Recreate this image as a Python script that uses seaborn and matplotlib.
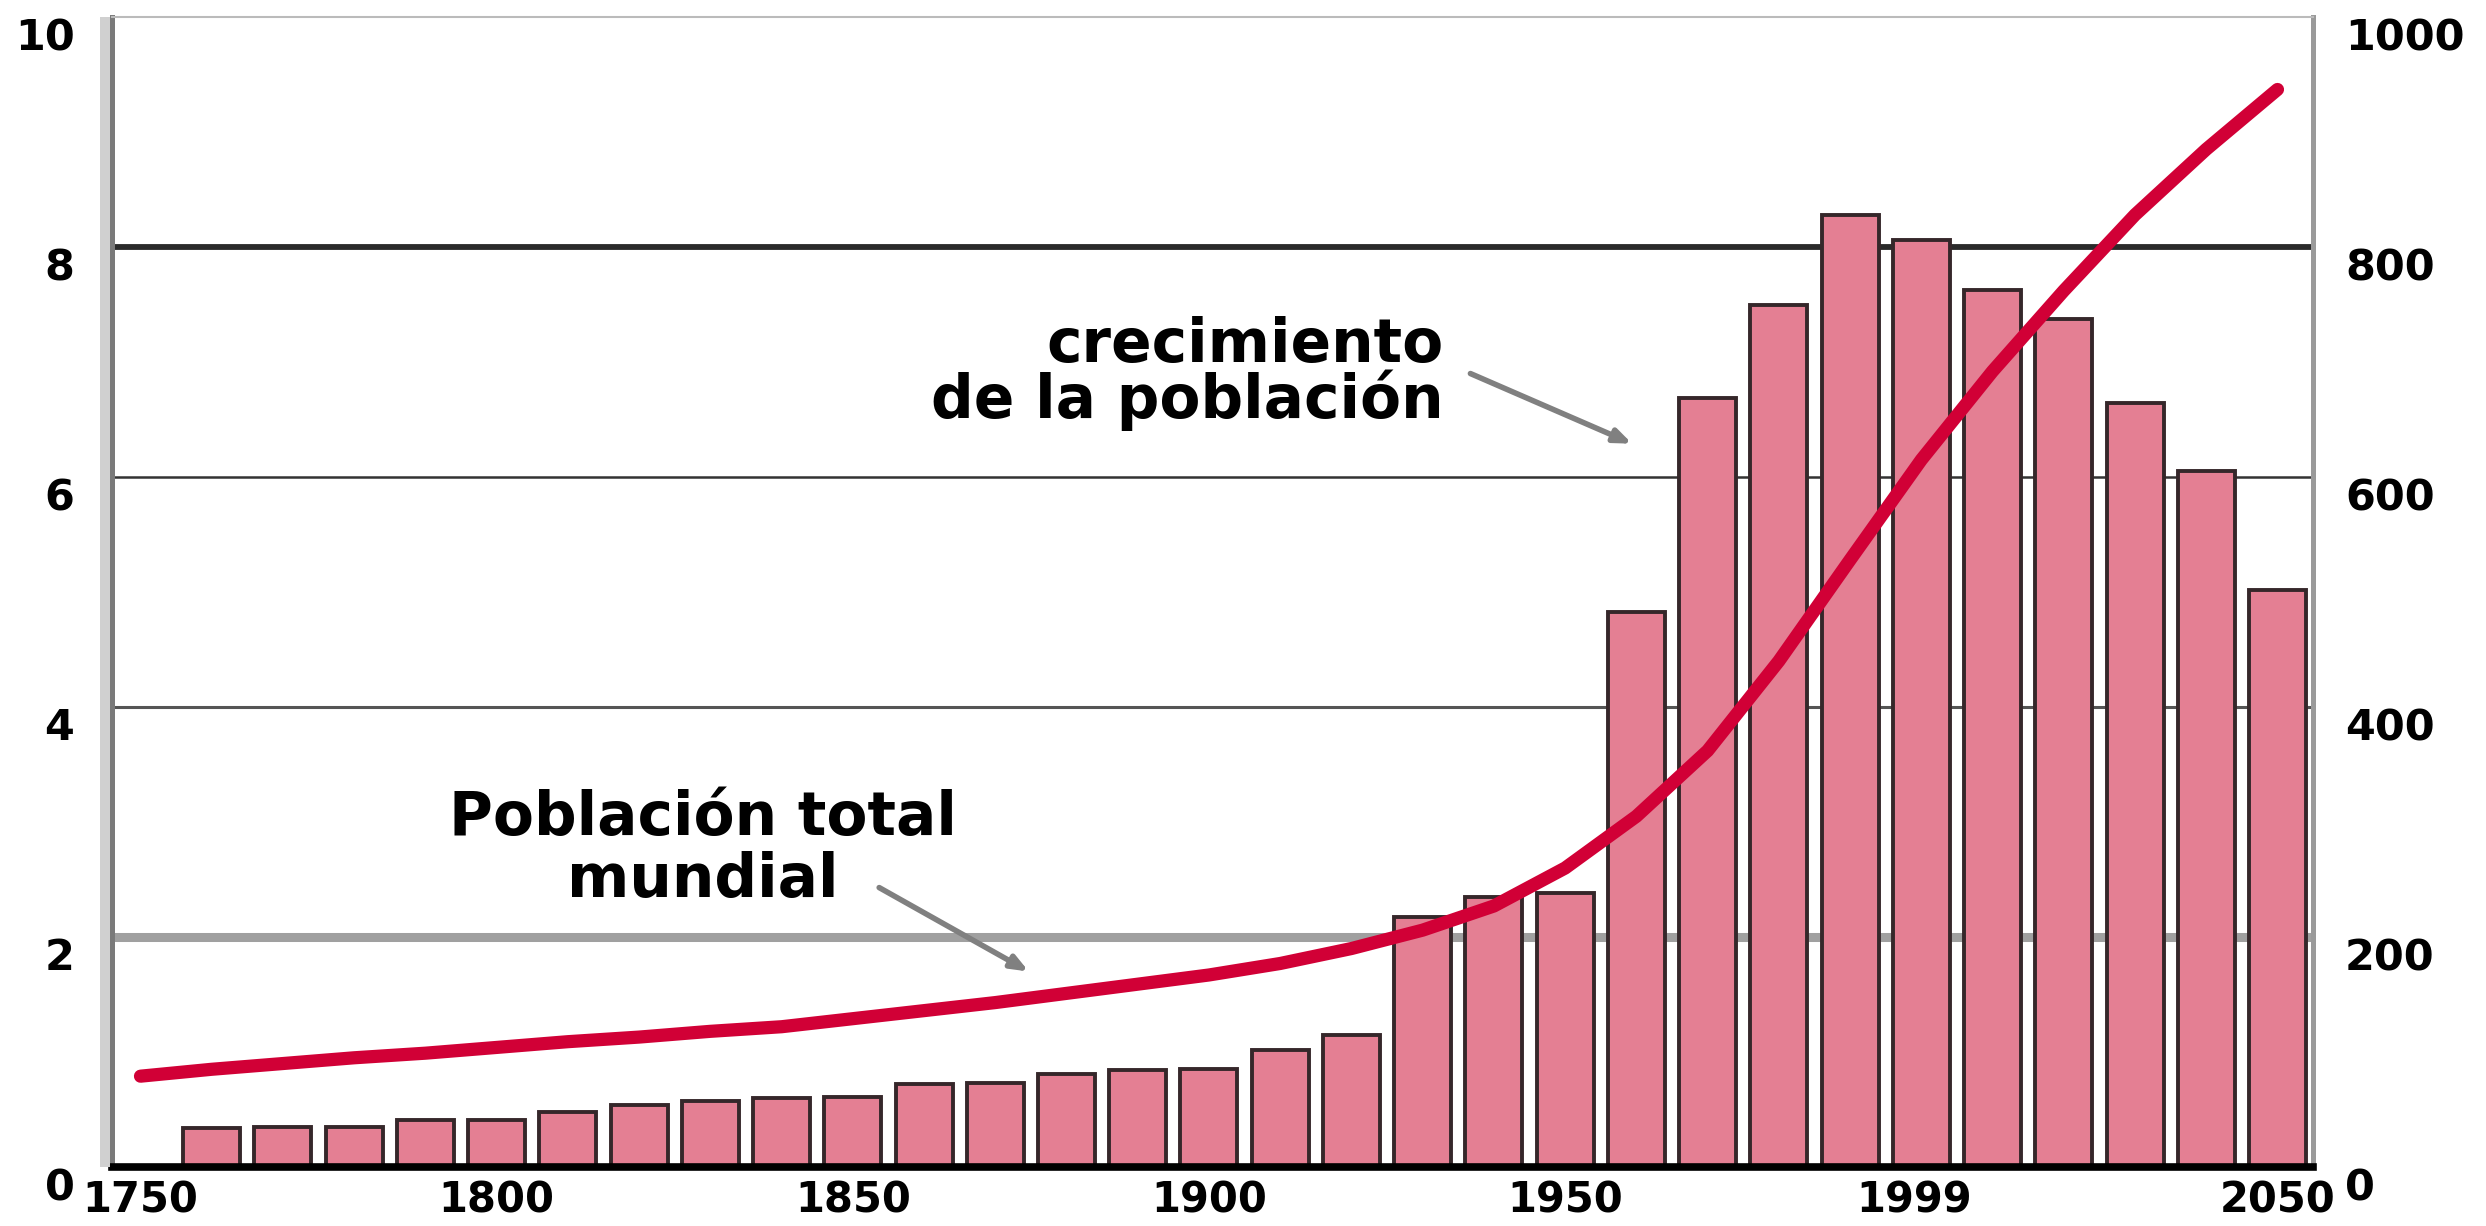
import pandas as pd
import matplotlib
matplotlib.use('Agg')
import matplotlib.pyplot as plt
from matplotlib.patches import Rectangle
import seaborn as sns

sns.set_style("white")
plt.rcParams['font.family'] = ['DejaVu Sans']
plt.rcParams['font.weight'] = 'bold'
plt.rcParams['text.color'] = 'black'
plt.rcParams['xtick.color'] = 'black'
plt.rcParams['ytick.color'] = 'black'

# Crecimiento de la población por década (millones, eje derecho)
decadas = [1760, 1770, 1780, 1790, 1800, 1810, 1820, 1830, 1840, 1850,
           1860, 1870, 1880, 1890, 1900, 1910, 1920, 1930, 1940, 1950,
           1960, 1970, 1980, 1990, 2000, 2010, 2020, 2030, 2040, 2050]
crecimiento = [34, 35, 35, 41, 41, 48, 54, 57, 60, 61,
               72, 73, 81, 84, 85, 102, 115, 217, 235, 238,
               483, 669, 750, 828, 806, 763, 737, 664, 605, 502]

# Población total mundial (miles de millones, eje izquierdo)
anios_pob = [1750, 1760, 1770, 1780, 1790, 1800, 1810, 1820, 1830, 1840,
             1850, 1860, 1870, 1880, 1890, 1900, 1910, 1920, 1930, 1940,
             1950, 1960, 1970, 1980, 1990, 2000, 2010, 2020, 2030, 2040, 2050]
poblacion = [0.79, 0.85, 0.90, 0.95, 0.99, 1.04, 1.09, 1.13, 1.18, 1.22,
             1.29, 1.36, 1.43, 1.51, 1.59, 1.67, 1.77, 1.90, 2.06, 2.27,
             2.60, 3.05, 3.62, 4.40, 5.28, 6.15, 6.92, 7.62, 8.28, 8.85, 9.37]

# Ejes
anios_eje = [1750, 1800, 1850, 1900, 1950, 1999, 2050]
etiquetas_x = ['1750', '1800', '1850', '1900', '1950', '1999', '2050']
ticks_izq = [0, 2, 4, 6, 8, 10]
ticks_der = [0, 200, 400, 600, 800, 1000]

color_barra = '#E47F93'
color_borde = '#35272a'
color_linea = '#D10036'

fig = plt.figure(figsize=(24.86, 12.26), dpi=100)
ax = fig.add_axes([0.04505, 0.0481, 0.8854, 0.938])

df = pd.DataFrame({'decada': decadas, 'crecimiento': crecimiento})
sns.barplot(data=df, x='decada', y='crecimiento', native_scale=True, width=0.8,
            color=color_barra, saturation=1, edgecolor=color_borde,
            linewidth=2.8, ax=ax)

ax2 = ax.twinx()
ax.yaxis.tick_right()
ax2.yaxis.tick_left()

dfp = pd.DataFrame({'anio': anios_pob, 'poblacion': poblacion})
sns.lineplot(data=dfp, x='anio', y='poblacion', color=color_linea,
             linewidth=9.5, ax=ax2, solid_joinstyle='round')

ax.set_xlim(1746, 2055)
ax.set_ylim(0, 1000)
ax2.set_ylim(0, 10)

# Líneas de referencia
estilos = {200: ('#a0a0a0', 6.5), 400: ('#555555', 2.2),
           600: ('#333333', 1.8), 800: ('#2a2a2a', 4.2)}
for nivel, (c, lw) in estilos.items():
    ax.axhline(nivel, color=c, lw=lw, zorder=0.5)

ax.set_xticks(anios_eje)
ax.set_xticklabels(etiquetas_x, fontsize=30, fontweight='bold')
ax.set_yticks(ticks_der)
ax.set_yticklabels([str(t) for t in ticks_der], fontsize=31, fontweight='bold', va='top')
ax2.set_yticks(ticks_izq)
ax2.set_yticklabels([str(t) for t in ticks_izq], fontsize=31, fontweight='bold', va='top')
ax.tick_params(axis='x', length=0, pad=9)
ax.tick_params(axis='y', length=0, pad=23)
ax2.tick_params(axis='y', length=0, pad=27)
ax.set_xlabel('')
ax.set_ylabel('')
ax2.set_xlabel('')
ax2.set_ylabel('')

for s in ax2.spines.values():
    s.set_visible(False)
ax.spines['bottom'].set_color('black')
ax.spines['bottom'].set_linewidth(5.5)
ax.spines['left'].set_color('#7a7a7a')
ax.spines['left'].set_linewidth(3.6)
ax.spines['right'].set_color('#9a9a9a')
ax.spines['right'].set_linewidth(3.6)
ax.spines['top'].set_color('#bbbbbb')
ax.spines['top'].set_linewidth(1.5)

fig.add_artist(Rectangle((100 / 2486, 59 / 1226), 10 / 2486, 1150 / 1226,
                         transform=fig.transFigure, color='#d0d0d0', lw=0))

# Anotaciones
flecha = dict(arrowstyle='-|>,head_length=1.0,head_width=0.4',
              color='#808080', lw=4, shrinkA=0, shrinkB=0)
ax2.text(1933, 6.9, 'crecimiento\nde la población', ha='right', va='center',
         multialignment='right', fontsize=43, fontweight='bold', linespacing=0.9)
ax2.annotate('', xy=(1959.4, 6.29), xytext=(1936.7, 6.9), arrowprops=flecha)
ax2.text(1829, 2.76, 'Población total\nmundial', ha='center', va='center',
         multialignment='center', fontsize=43, fontweight='bold', linespacing=1.05)
ax2.annotate('', xy=(1874.7, 1.70), xytext=(1853.7, 2.43), arrowprops=flecha)

fig.savefig('out.png', dpi=100)
plt.close(fig)
